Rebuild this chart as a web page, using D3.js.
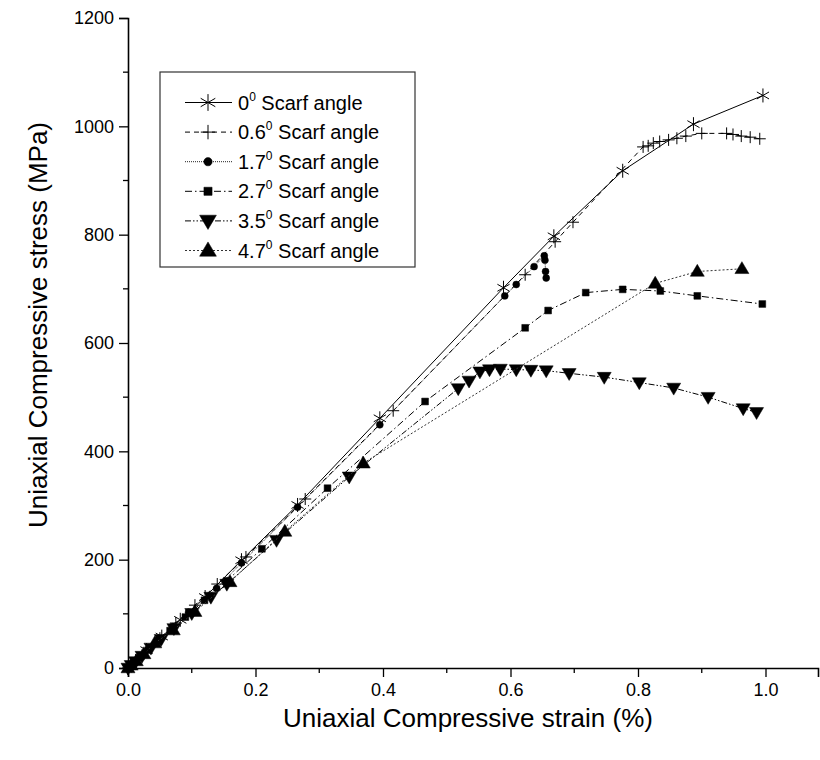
<!DOCTYPE html>
<html>
<head>
<meta charset="utf-8">
<script src="https://cdn.jsdelivr.net/npm/d3@7"></script>
<style>
  body { margin: 0; background: #fff; }
  text { font-family: "Liberation Sans", Arial, sans-serif; fill: #000; }
</style>
</head>
<body>
<svg id="chart" width="820" height="760"></svg>
<script>
// strain (%) and stress (MPa)
const strain0  = [0, 0.005, 0.012, 0.029, 0.053, 0.082, 0.121, 0.178, 0.266, 0.395, 0.589, 0.668, 0.776, 0.887, 0.996];
const stress0  = [0, 6, 13, 33, 58, 89, 131, 199, 301, 461, 702, 797, 918, 1004, 1057];

const strain06 = [0, 0.006, 0.015, 0.030, 0.050, 0.075, 0.105, 0.140, 0.185, 0.278, 0.416, 0.623, 0.670, 0.698, 0.808, 0.816, 0.824, 0.834, 0.848, 0.861, 0.875, 0.900, 0.939, 0.949, 0.962, 0.976, 0.991];
const stress06 = [0, 6, 16, 33, 55, 83, 116, 155, 205, 312, 475, 726, 787, 823, 962, 964, 969, 972, 975, 978, 982, 987, 987, 985, 982, 980, 977];

const strain17 = [0, 0.004, 0.010, 0.020, 0.033, 0.050, 0.070, 0.095, 0.139, 0.178, 0.266, 0.395, 0.591, 0.609, 0.637, 0.653, 0.654, 0.655, 0.656];
const stress17 = [0, 4, 11, 22, 36, 54, 76, 103, 147, 194, 297, 449, 687, 708, 741, 761, 753, 732, 720];

const strain27 = [0, 0.004, 0.010, 0.020, 0.032, 0.048, 0.066, 0.090, 0.120, 0.155, 0.210, 0.313, 0.466, 0.623, 0.659, 0.718, 0.776, 0.835, 0.893, 0.995];
const stress27 = [0, 4, 10, 21, 33, 50, 69, 94, 125, 161, 220, 332, 492, 628, 660, 693, 699, 696, 687, 672];

const strain35 = [0, 0.005, 0.012, 0.022, 0.036, 0.052, 0.072, 0.100, 0.130, 0.155, 0.233, 0.347, 0.518, 0.535, 0.552, 0.567, 0.584, 0.609, 0.632, 0.656, 0.692, 0.747, 0.802, 0.856, 0.910, 0.965, 0.986];
const stress35 = [0, 5, 12, 22, 37, 53, 73, 101, 131, 155, 236, 353, 516, 530, 547, 551, 552, 551, 550, 549, 544, 537, 527, 517, 500, 479, 472];

const strain47 = [0, 0.005, 0.013, 0.025, 0.042, 0.071, 0.105, 0.160, 0.246, 0.369, 0.827, 0.893, 0.963];
const stress47 = [0, 5, 13, 26, 46, 70, 104, 159, 252, 378, 710, 732, 737];

const angles = ["0", "0.6", "1.7", "2.7", "3.5", "4.7"];
const xTicks = [0, 0.2, 0.4, 0.6, 0.8, 1.0];
const xMinor = [0.1, 0.3, 0.5, 0.7, 0.9];
const yTicks = [0, 200, 400, 600, 800, 1000, 1200];
const yMinor = [100, 300, 500, 700, 900, 1100];

const series = [
  { xs: strain0,  ys: stress0,  marker: "asterisk", dash: null,          stroke: "#000" },
  { xs: strain06, ys: stress06, marker: "plus",     dash: "5,4",         stroke: "#000" },
  { xs: strain17, ys: stress17, marker: "circle",   dash: "1,1",         stroke: "#222" },
  { xs: strain27, ys: stress27, marker: "square",   dash: "7,3,1.5,3",   stroke: "#000" },
  { xs: strain35, ys: stress35, marker: "down",     dash: "6,2,1.5,2,1.5,2", stroke: "#000" },
  { xs: strain47, ys: stress47, marker: "up",       dash: "2,2",         stroke: "#333" }
];

const svg = d3.select("#chart");

const x = d3.scaleLinear().domain([0, 1]).range([128, 765.5]);
const y = d3.scaleLinear().domain([0, 1200]).range([668, 18]);
// axis line runs on past 1.0 to the right edge
const xAxisScale = x.copy().domain([0, x.invert(818)]).range([128, 818]);

// marker shapes, centred at 0,0
function markerPath(type, big) {
  const k = big ? 1.2 : 1;
  if (type === "asterisk") {
    const r = 7 * k, a = r * 0.87, b = r * 0.5;
    return `M0,${-r}V${r}M${-a},${-b}L${a},${b}M${-a},${b}L${a},${-b}`;
  }
  if (type === "plus") {
    const r = 6 * k;
    return `M${-r},0H${r}M0,${-r}V${r}`;
  }
  if (type === "circle") return d3.symbol(d3.symbolCircle, 38 * k * k)();
  if (type === "square") return d3.symbol(d3.symbolSquare, 46 * k * k)();
  const s = 14 * k, h = s * 0.85;
  if (type === "up") return `M0,${-h * 0.6}L${s / 2},${h * 0.4}L${-s / 2},${h * 0.4}Z`;
  return `M0,${h * 0.6}L${s / 2},${-h * 0.4}L${-s / 2},${-h * 0.4}Z`;
}
function drawMarker(g, type, big) {
  const open = type === "asterisk" || type === "plus";
  g.append("path")
    .attr("d", markerPath(type, big))
    .attr("fill", open ? "none" : "#000")
    .attr("stroke", "#000")
    .attr("stroke-width", open ? 1 : 0.5);
}

// lines + markers
const line = d3.line().x(d => x(d[0])).y(d => y(d[1]));
series.forEach(s => {
  const pts = s.xs.map((v, i) => [v, s.ys[i]]);
  svg.append("path")
    .datum(pts)
    .attr("d", line)
    .attr("fill", "none")
    .attr("stroke", s.stroke)
    .attr("stroke-width", 1)
    .attr("stroke-dasharray", s.dash);
  const g = svg.append("g");
  pts.forEach(p => {
    drawMarker(g.append("g").attr("transform", `translate(${x(p[0])},${y(p[1])})`), s.marker, false);
  });
});

// axes
const xAxis = svg.append("g")
  .attr("transform", "translate(0,668)")
  .call(d3.axisBottom(xAxisScale).tickValues(xTicks).tickFormat(d3.format(".1f")).tickSizeOuter(0).tickSize(9).tickPadding(6));
xAxis.selectAll(".minor").data(xMinor).enter().append("line")
  .attr("x1", d => x(d)).attr("x2", d => x(d)).attr("y1", 0).attr("y2", 5)
  .attr("stroke", "#000").attr("stroke-width", 1.3);

const yAxis = svg.append("g")
  .attr("transform", "translate(128,0)")
  .call(d3.axisLeft(y).tickValues(yTicks).tickFormat(d3.format("d")).tickSizeOuter(0).tickSize(9).tickPadding(5));
yAxis.selectAll(".minor").data(yMinor).enter().append("line")
  .attr("y1", d => y(d)).attr("y2", d => y(d)).attr("x1", 0).attr("x2", -5)
  .attr("stroke", "#000").attr("stroke-width", 1.3);

svg.selectAll(".domain").attr("stroke-width", 1.6);
svg.selectAll(".tick line").attr("stroke-width", 1.3);
svg.selectAll(".tick text").attr("font-size", 18).attr("font-family", "Liberation Sans, Arial, sans-serif");

// axis titles
svg.append("text")
  .attr("x", 468).attr("y", 727)
  .attr("text-anchor", "middle")
  .attr("font-size", 26)
  .text("Uniaxial Compressive strain (%)");
svg.append("text")
  .attr("transform", "translate(47,325) rotate(-90)")
  .attr("text-anchor", "middle")
  .attr("font-size", 26)
  .text("Uniaxial Compressive stress (MPa)");

// legend
const leg = svg.append("g");
leg.append("rect")
  .attr("x", 160).attr("y", 72).attr("width", 255).attr("height", 195)
  .attr("fill", "#fff").attr("stroke", "#333").attr("stroke-width", 1.2);
series.forEach((s, i) => {
  const cy = 102.5 + i * 29.6;
  leg.append("line")
    .attr("x1", 185).attr("x2", 232).attr("y1", cy).attr("y2", cy)
    .attr("stroke", s.stroke).attr("stroke-width", 1)
    .attr("stroke-dasharray", s.dash);
  drawMarker(leg.append("g").attr("transform", `translate(208,${cy})`), s.marker, true);
  const t = leg.append("text")
    .attr("x", 238).attr("y", cy + 7)
    .attr("font-size", 20);
  t.append("tspan").text(angles[i]);
  t.append("tspan").attr("font-size", 12).attr("dy", -9).text("0");
  t.append("tspan").attr("dy", 9).text(" Scarf angle");
});
</script>
</body>
</html>
